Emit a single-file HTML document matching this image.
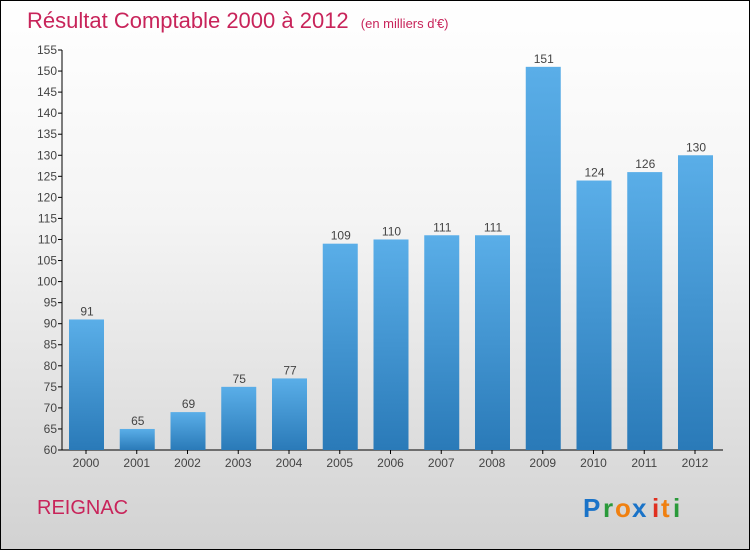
<!DOCTYPE html>
<html><head><meta charset="utf-8"><style>
body{margin:0}
#c{position:relative;width:748px;height:548px;border:1px solid #000;background:linear-gradient(#ffffff 0%,#f4f4f4 40%,#d2d2d2 100%);font-family:"Liberation Sans",sans-serif;overflow:hidden}
</style></head><body>
<div id="c">
<svg width="748" height="548" xmlns="http://www.w3.org/2000/svg" id="svg">
<defs><linearGradient id="bg" x1="0" y1="0" x2="0" y2="1"><stop offset="0" stop-color="#5aaee8"/><stop offset="1" stop-color="#2a7ab8"/></linearGradient></defs>
<text x="26" y="27" font-size="22" fill="#c8245a">Résultat Comptable 2000 à 2012 <tspan font-size="13" dx="6">(en milliers d'€)</tspan></text>
<text x="36" y="513" font-size="20" fill="#c8245a">REIGNAC</text>
<g font-size="26" font-weight="bold">
<text x="582" y="516" fill="#1a73c8">P</text><text x="602" y="516" fill="#2a9a3a">r</text><text x="614" y="516" fill="#f08010">o</text><text x="631" y="516" fill="#1a73c8">x</text><text x="651" y="516" fill="#e03020">i</text><text x="660" y="516" fill="#f08010">t</text><text x="672" y="516" fill="#2a9a3a">i</text></g>
<g id="plot"></g>
</svg>
</div>
<script>
const years=["2000","2001","2002","2003","2004","2005","2006","2007","2008","2009","2010","2011","2012"];
const values=[91,65,69,75,77,109,110,111,111,151,124,126,130];
const ticks=[60,65,70,75,80,85,90,95,100,105,110,115,120,125,130,135,140,145,150,155];
const NS="http://www.w3.org/2000/svg";
const g=document.getElementById('plot');
const y=v=>449-(v-60)*400/95;
const x=i=>85+i*50.75;
function mk(t,a){const e=document.createElementNS(NS,t);for(const k in a)e.setAttribute(k,a[k]);g.appendChild(e);return e;}
let ax=mk('line',{x1:61,y1:y(155),x2:61,y2:449,stroke:'#000'});


let bx=mk('line',{x1:61,y1:449,x2:722,y2:449,stroke:'#000'});


ticks.forEach(t=>{
 mk('line',{x1:57,x2:61,y1:y(t),y2:y(t),stroke:'#000'});
 const tx=mk('text',{x:56,y:y(t)+4,'text-anchor':'end','font-size':12,fill:'#444'});
 tx.textContent=t;
 
 
});
values.forEach((v,i)=>{
 const r=mk('rect',{x:x(i)-17,y:y(v),width:35,height:449-y(v),fill:'url(#bg)'});
 
 
 const l=mk('text',{x:x(i)+1,y:y(v)-4,'text-anchor':'middle','font-size':12,fill:'#444'});
 l.textContent=v;
 
 
 mk('line',{x1:x(i),x2:x(i),y1:449,y2:453,stroke:'#000'});
 const xl=mk('text',{x:x(i),y:466,'text-anchor':'middle','font-size':12,fill:'#444'});
 xl.textContent=years[i];
 
 
});
</script>
</body></html>
